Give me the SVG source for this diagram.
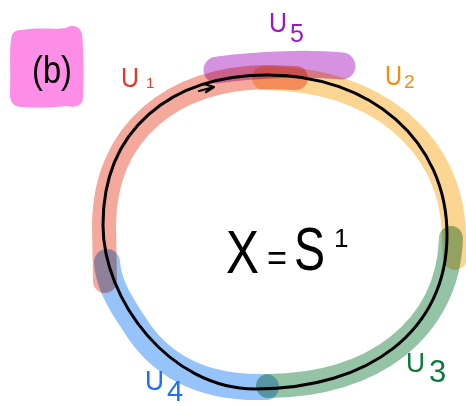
<svg xmlns="http://www.w3.org/2000/svg" width="466" height="406" viewBox="0 0 466 406">
<style>
.band{fill:none;stroke-linecap:round;stroke-linejoin:round;mix-blend-mode:multiply}
.hand{font-family:"Liberation Sans","DejaVu Sans",sans-serif}
.lbl{font-family:"Liberation Sans","DejaVu Sans",sans-serif}
</style>
<rect width="466" height="406" fill="#ffffff"/>
<g id="label-b">
<path d="M22,30 C40,27 55,30 66,28 C72,24 80,26 82,34 C84,55 84,80 83,98 C82,106 76,108 66,106 C50,108 35,108 22,107 C12,107 9,100 10,90 C11,70 9,55 11,40 C12,32 15,30 22,30 Z" fill="#fd8ee8"/>
<text class="hand" x="32" y="83" font-size="38" textLength="40" lengthAdjust="spacingAndGlyphs" fill="#000">(b)</text>
</g>
<g id="bands">
<path id="U1-band" class="band" stroke="#f5a89c" stroke-width="24" d="M296,78 L268,77 C172,78 105,132 104,225 L105,281"/>
<path id="U2-band" class="band" stroke="#fdd592" stroke-width="24" d="M264,78 C372,78 452,140 454,235 L455,258"/>
<path id="U3-band" class="band" stroke="#94c3a5" stroke-width="24" d="M451,238 C448,330 372,386 268,386"/>
<path id="U4-band" class="band" stroke="#95c3fa" stroke-width="26" d="M266,387 C200,389 158,364 133,322 C116,297 108,280 107,262"/>
<path id="U5-band" class="band" stroke="#d592e1" stroke-width="27" d="M217,70 C260,64 310,63 342,66"/>
</g>
<g id="loop">
<path d="M268,75 C370,75 447,140 447,235 C447,330 370,389 255,389 C170,389 103,300 103,225 C103,130 170,75 268,75 Z" fill="none" stroke="#000" stroke-width="3"/>
<path d="M199,91 L214,87 M204,84 L214,87 L206,92" fill="none" stroke="#000" stroke-width="2.2" stroke-linecap="round" stroke-linejoin="round"/>
</g>
<g id="U1-label"><text class="lbl" x="121" y="87" font-size="28" textLength="18" lengthAdjust="spacingAndGlyphs" fill="#e8362a">U</text><text class="lbl" x="146" y="88" font-size="15" fill="#e8362a">1</text></g>
<g id="U5-label"><text class="lbl" x="269" y="32" font-size="28" textLength="18" lengthAdjust="spacingAndGlyphs" fill="#9a18c8">U</text><text class="lbl" x="290" y="42" font-size="25" fill="#9a18c8">5</text></g>
<g id="U2-label"><text class="lbl" x="385" y="85" font-size="28" textLength="17" lengthAdjust="spacingAndGlyphs" fill="#fa8c0a">U</text><text class="lbl" x="404" y="88" font-size="19" fill="#fa8c0a">2</text></g>
<g id="U3-label"><text class="lbl" x="406" y="372" font-size="28" textLength="19" lengthAdjust="spacingAndGlyphs" fill="#0a7a3c">U</text><text class="lbl" x="429" y="382" font-size="31" fill="#0a7a3c">3</text></g>
<g id="U4-label"><text class="lbl" x="145" y="390" font-size="28" textLength="19" lengthAdjust="spacingAndGlyphs" fill="#1f6ef5">U</text><text class="lbl" x="167" y="401" font-size="29" fill="#1f6ef5">4</text></g>
<g id="title">
<text class="hand" x="226" y="273" font-size="62" textLength="33" lengthAdjust="spacingAndGlyphs" fill="#000">X</text>
<text class="hand" x="267" y="270" font-size="36" textLength="20" lengthAdjust="spacingAndGlyphs" fill="#000">=</text>
<text class="hand" x="294" y="270" font-size="62" textLength="31" lengthAdjust="spacingAndGlyphs" fill="#000">S</text>
<text class="hand" x="334" y="247" font-size="26" fill="#000">1</text>
</g>
</svg>
